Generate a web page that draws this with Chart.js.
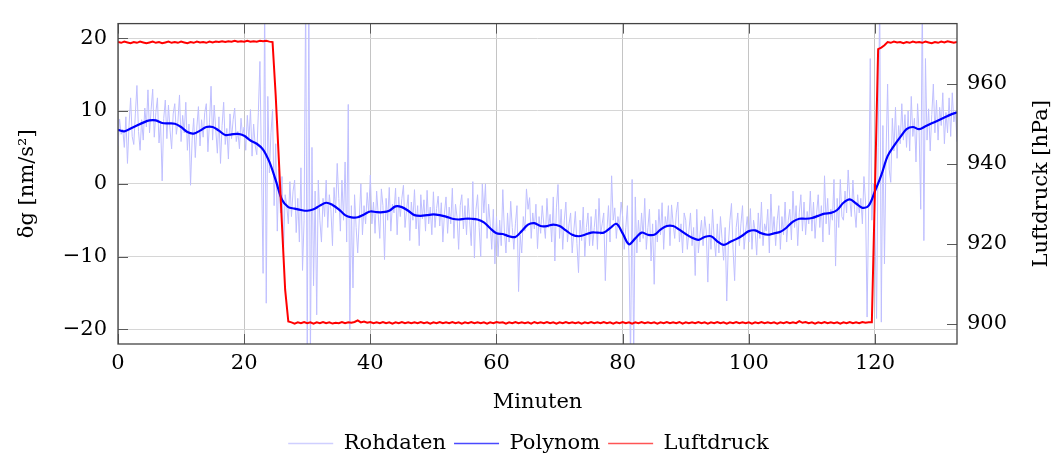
<!DOCTYPE html>
<html><head><meta charset="utf-8">
<script src="https://cdn.jsdelivr.net/npm/chart.js@4.4.1/dist/chart.umd.min.js"></script>
<style>html,body{margin:0;padding:0;background:#fff;}</style>
</head><body>
<canvas id="c" width="1057" height="459"></canvas>
<script>
const xTicks = [0, 20, 40, 60, 80, 100, 120];
const leftTicks = [-20, -10, 0, 10, 20];
const rightTicks = [900, 920, 940, 960];
const seriesNames = ['Rohdaten', 'Polynom', 'Luftdruck'];
const xTitle = 'Minuten';
const leftTitle = 'δg [nm/s²]';
const rightTitle = 'Luftdruck [hPa]';

// Rohdaten: sampled every 0.25 min, from 0 to 133
const rohStep = 0.25;
const rohdaten = [
 5.2, 8.9, 6.8, 7.5, 5.0, 9.2, 2.8, 8.0, 11.8, 6.5, 5.4, 9.6, 13.5, 7.2, 4.6, 8.8, 6.0, 10.4, 7.8, 12.9,
 7.0, 10.2, 13.0, 6.4, 9.8, 11.8, 5.6, 8.4, 0.4, 9.0, 11.5, 6.2, 10.8, 7.4, 4.8, 9.6, 11.0, 6.8, 8.6, 12.2,
 5.8, 9.4, 7.0, 11.2, 4.6, 8.2, -0.2, 6.0, 9.0, 3.6, 7.8, 10.6, 5.2, 8.8, 6.4, 9.8, 11.0, 4.4, 8.4, 13.4,
 6.0, 10.8, 7.4, 4.2, 9.2, 2.8, 8.0, 11.2, 5.4, 7.6, 3.4, 9.6, 6.2, 8.8, 10.4, 5.8, 7.2, 4.8, 9.0, 6.6,
 7.8, 4.6, 9.4, 6.0, 10.2, 3.8, 8.2, 5.2, 4.0, 9.8, 16.8, 2.0, -12.3, 26.0, -16.4, 12.0, 1.5, 7.0, 10.2, -3.0,
 5.5, -6.5, 2.0, -4.0, 1.0, -9.0, -1.5, -3.0, -5.5, 0.3, -4.5, -1.0, 0.5, -6.7, -2.0, -8.0, 2.2, -11.9, -5.0, 26.0,
 -24.0, 26.0, -24.0, 5.0, -14.0, -1.0, -18.0, 0.5, -5.0, -8.0, -2.0, -4.5, 0.5, -6.0, -1.5, -3.5, -8.5, -0.5, -4.0, 2.8,
 -2.0, -6.5, 0.5, -5.0, 3.0, -8.0, 10.9, -20.0, -3.0, -14.3, -1.5, -6.0, -9.5, -4.8, 0.0, -7.0, -3.0, -5.5, -1.2, -4.0,
 1.2, -5.5, -2.5, -6.8, -1.0, -4.2, -7.5, -0.7, -3.0, -10.4, -2.0, -5.0, -0.5, -6.5, -2.8, -4.0, -0.6, -7.0, -1.8, -4.5,
 -2.0, -0.2, -6.0, -3.5, -1.5, -7.8, -2.5, -5.0, -0.8, -6.2, -3.0, -8.5, -1.5, -4.8, -2.2, -6.5, -0.9, -5.5, -3.2, -7.0,
 -1.1, -6.0, -3.4, -1.7, -5.8, -2.6, -8.0, -4.0, -1.8, -6.8, -3.2, -5.5, -0.6, -7.5, -2.8, -4.6, -9.0, -3.0, -1.5, -6.2,
 -3.0, -7.0, -2.0, -5.2, -8.5, 0.3, -10.2, -3.5, -1.5, -6.0, -10.0, 0.0, -4.0, 0.0, -7.5, -2.8, -5.5, -9.0, -3.5, -11.0,
 -4.5, -10.0, -5.0, -8.5, -0.8, -6.5, -9.5, -4.0, -8.0, -2.4, -6.0, -9.0, -5.5, -3.0, -14.8, -7.0, -9.5, -4.5, -6.5, -0.7,
 -3.5, -1.9, -7.5, -4.0, -6.2, -2.8, -8.9, -4.5, -6.8, -3.0, -5.5, -7.5, -2.0, -6.0, -4.2, -8.0, -1.8, -10.6, -3.2, -0.1,
 -7.5, -3.5, -9.0, -5.0, -2.5, -8.0, -5.5, -4.0, -9.5, -6.5, -3.8, -8.2, -12.2, -5.0, -7.8, -3.2, -10.0, -6.0, -4.0, -8.5,
 -4.5, -8.5, -6.0, -3.5, -9.0, -2.0, -7.0, -5.5, -4.0, -13.3, -6.5, -3.0, -8.0, 1.1, -5.0, -3.3, -7.5, -4.5, -6.0, -2.5,
 -4.5, -9.0, -6.0, -3.0, -10.0, -24.0, 0.6, -24.0, -1.8, -9.5, -5.0, -8.0, -4.0, -7.5, -2.0, -9.0, -6.0, -3.5, -10.6, -5.5,
 -13.8, -5.0, -8.0, -3.5, -7.0, -2.6, -9.0, -4.5, -6.0, -3.0, -8.5, -2.9, -5.5, -7.5, -4.0, -2.5, -8.0, -5.5, -9.5, -4.0,
 -5.0, -9.0, -6.5, -4.0, -8.5, -6.0, -12.6, -3.5, -9.5, -7.0, -5.0, -8.5, -4.5, -6.5, -13.5, -5.5, -9.0, -3.5, -7.5, -10.0,
 -5.5, -9.5, -4.5, -7.5, -10.5, -6.0, -16.1, -8.5, -5.0, -2.7, -9.0, -13.3, -6.0, -4.0, -8.5, -5.5, -3.0, -9.0, -6.5, -4.5,
 -8.0, -3.4, -9.0, -5.0, -6.5, -9.8, -4.0, -7.5, -2.5, -8.5, -5.5, -6.5, -3.5, -9.5, -1.4, -7.0, -4.5, -8.5, -5.0, -3.0,
 -9.0, -4.5, -7.0, -2.5, -8.0, -5.0, -3.5, -7.7, -1.0, -6.0, -3.0, -8.5, -4.0, -1.5, -6.5, -2.5, -7.0, -3.8, -5.5, -1.0,
 -6.5, -2.5, -7.5, -4.0, -1.5, -6.0, -3.0, -8.0, 1.1, -5.5, -2.0, -7.0, -3.5, -5.0, 0.6, -11.3, -2.0, -6.0, 0.6, -4.5,
 -5.0, -1.0, -4.0, 1.9, -2.0, -4.5, 0.5, -3.5, -6.0, -1.5, -4.0, -2.0, -5.5, 1.0, -2.5, -18.3, -3.0, 17.2, -5.0, 0.0,
 -6.0, -18.5, 5.0, 26.0, -19.0, 8.0, -11.0, 4.0, 13.7, 2.0, 0.2, 9.0, 4.5, 10.5, 3.5, 8.0, 5.5, 11.0, 6.0, 9.5,
 5.0, 10.0, 4.5, 12.0, 6.5, 9.0, 3.0, 11.0, 7.0, -3.5, 26.0, -7.8, 17.2, 6.0, 10.3, 4.5, 9.5, 13.7, 7.0, 11.5,
 6.0, 10.5, 8.0, 12.5, 5.5, 9.8, 7.0, 11.8, 6.5, 12.5, 8.5, 10.0, 5.8
];

// Polynom: every 1 min, from 0 to 133
const polyStep = 1;
const polynom = [
 7.4, 7.2, 7.6, 8.0, 8.4, 8.7, 8.7, 8.35, 8.3, 8.25,
 7.8, 7.1, 6.9, 7.3, 7.8, 7.8, 7.3, 6.7, 6.8, 6.85,
 6.6, 5.95, 5.5, 4.7, 3.0, 0.5, -2.2, -3.2, -3.4, -3.6,
 -3.7, -3.5, -3.0, -2.6, -2.9, -3.5, -4.3, -4.6, -4.6, -4.2,
 -3.8, -3.9, -3.9, -3.7, -3.1, -3.2, -3.7, -4.3, -4.4, -4.3,
 -4.2, -4.3, -4.5, -4.8, -4.9, -4.8, -4.8, -4.9, -5.3, -6.1,
 -6.8, -6.9, -7.2, -7.3, -6.5, -5.6, -5.4, -5.8, -5.8, -5.6,
 -5.8, -6.4, -7.0, -7.2, -7.0, -6.7, -6.7, -6.7, -6.1, -5.5,
 -6.8, -8.3, -7.5, -6.7, -7.0, -7.0, -6.3, -5.8, -5.8, -6.3,
 -6.9, -7.4, -7.7, -7.3, -7.2, -7.9, -8.4, -8.0, -7.6, -7.1,
 -6.5, -6.4, -6.8, -7.0, -6.8, -6.6, -6.0, -5.2, -4.8, -4.8,
 -4.7, -4.4, -4.1, -4.0, -3.6, -2.6, -2.15, -2.7, -3.3, -3.0,
 -1.0, 1.2, 3.8, 5.2, 6.4, 7.5, 7.8, 7.5, 7.9, 8.3,
 8.7, 9.1, 9.5, 9.8
];

// Luftdruck: every 0.5 min, from 0 to 133
const luftStep = 0.5;
const luftdruck = [
 970.4, 970.2, 970.5, 970.3, 970.1, 970.4, 970.2, 970.5, 970.3, 970.1,
 970.3, 970.5, 970.2, 970.4, 970.1, 970.3, 970.5, 970.2, 970.4, 970.2,
 970.5, 970.3, 970.1, 970.4, 970.2, 970.5, 970.3, 970.4, 970.2, 970.5,
 970.3, 970.5, 970.4, 970.6, 970.4, 970.6, 970.5, 970.7, 970.5, 970.6,
 970.5, 970.7, 970.5, 970.6, 970.5, 970.7, 970.6, 970.7, 970.5, 970.4,
 957.0, 941.0, 924.5, 908.5, 900.6,
 900.4, 900.1, 900.4, 900.2, 900.5, 900.2, 900.4, 900.1, 900.4, 900.2, 900.5, 900.2, 900.4, 900.1, 900.3, 900.2, 900.5, 900.2, 900.4, 900.3,
 900.5, 900.9, 900.4, 900.6, 900.3, 900.5, 900.2, 900.4, 900.2, 900.5, 900.2, 900.4, 900.1, 900.4, 900.2, 900.5, 900.2, 900.4, 900.2, 900.4,
 900.2, 900.5, 900.2, 900.4, 900.1, 900.4, 900.2, 900.5, 900.2, 900.4, 900.2, 900.5, 900.2, 900.4, 900.1, 900.4, 900.2, 900.5, 900.2, 900.4,
 900.2, 900.4, 900.1, 900.4, 900.2, 900.5, 900.3, 900.4, 900.1, 900.4, 900.2, 900.5, 900.2, 900.4, 900.2, 900.4, 900.1, 900.5, 900.2, 900.4,
 900.2, 900.5, 900.2, 900.4, 900.1, 900.4, 900.2, 900.5, 900.2, 900.4, 900.2, 900.4, 900.1, 900.4, 900.2, 900.5, 900.2, 900.4, 900.2, 900.5,
 900.2, 900.4, 900.1, 900.4, 900.2, 900.5, 900.2, 900.4, 900.1, 900.4, 900.2, 900.5, 900.2, 900.4, 900.2, 900.4, 900.1, 900.4, 900.2, 900.5,
 900.2, 900.4, 900.2, 900.5, 900.1, 900.4, 900.2, 900.4, 900.2, 900.5, 900.2, 900.4, 900.1, 900.4, 900.2, 900.5, 900.2, 900.4, 900.1, 900.4,
 900.2, 900.5, 900.2, 900.4, 900.2, 900.4, 900.1, 900.4, 900.2, 900.5, 900.2, 900.4, 900.2, 900.4, 900.1, 900.4, 900.2, 900.5, 900.2, 900.4,
 900.2, 900.7, 900.3, 900.5, 900.2, 900.4, 900.1, 900.4, 900.2, 900.5, 900.2, 900.4, 900.2, 900.4, 900.1, 900.4, 900.2, 900.5, 900.2, 900.4,
 900.2, 900.5, 900.3, 900.4, 900.4,
 934.0, 968.6, 969.0, 969.6, 970.4,
 970.2, 970.5, 970.3, 970.4, 970.1, 970.4, 970.2, 970.5, 970.3, 970.4, 970.2,
 970.5, 970.3, 970.1, 970.4, 970.2, 970.5, 970.3, 970.6, 970.4, 970.2, 970.4
];

const seriesColors = ['#bfbfff', '#0000ff', '#ff0000'];
const legendColors = ['#cfcfff', '#4a4aff', '#ff5555'];
const FONT = '"DejaVu Serif", "Liberation Serif", serif';

const toPoints = (vals, step) => vals.map((v, i) => ({x: i * step, y: v}));
const fmt = v => (v < 0 ? '\u2212' + Math.abs(v) : String(v));

const framePlugin = {
  id: 'frame',
  afterDraw(chart) {
    const {ctx, chartArea: a, scales} = chart;
    ctx.save();
    const line = (x1, y1, x2, y2) => { ctx.beginPath(); ctx.moveTo(x1, y1); ctx.lineTo(x2, y2); ctx.stroke(); };
    ctx.strokeStyle = '#5a5a5a';
    ctx.lineWidth = 1;
    xTicks.forEach(v => {
      const px = Math.round(scales.x.getPixelForValue(v)) + 0.5;
      line(px, a.bottom, px, a.bottom - 10);
      line(px, a.top, px, a.top + 10);
    });
    leftTicks.forEach(v => {
      const py = Math.round(scales.y.getPixelForValue(v)) + 0.5;
      line(a.left, py, a.left + 10, py);
    });
    rightTicks.forEach(v => {
      const py = Math.round(scales.y2.getPixelForValue(v)) + 0.5;
      line(a.right, py, a.right - 10, py);
    });
    ctx.strokeStyle = '#444';
    ctx.lineWidth = 1.3;
    ctx.strokeRect(a.left, a.top, a.right - a.left, a.bottom - a.top);
    ctx.translate(1042, (a.top + a.bottom) / 2);
    ctx.rotate(-Math.PI / 2);
    ctx.font = '21px ' + FONT;
    ctx.fillStyle = '#000';
    ctx.textAlign = 'center';
    ctx.textBaseline = 'middle';
    ctx.fillText(rightTitle, 0, 0);
    ctx.restore();
  }
};

Chart.defaults.color = '#000';
Chart.defaults.font.family = FONT;
Chart.defaults.font.size = 21;

new Chart(document.getElementById('c'), {
  type: 'line',
  data: {
    datasets: [
      { label: seriesNames[0], data: toPoints(rohdaten, rohStep), borderColor: seriesColors[0], borderWidth: 1,
        pointRadius: 0, tension: 0, yAxisID: 'y', order: 3 },
      { label: seriesNames[1], data: toPoints(polynom, polyStep), borderColor: seriesColors[1], borderWidth: 2.2,
        pointRadius: 0, tension: 0.35, yAxisID: 'y', order: 2 },
      { label: seriesNames[2], data: toPoints(luftdruck, luftStep), borderColor: seriesColors[2], borderWidth: 2,
        pointRadius: 0, tension: 0, yAxisID: 'y2', order: 1 }
    ]
  },
  options: {
    responsive: false,
    animation: false,
    devicePixelRatio: 1,
    layout: { padding: { top: 8, bottom: -5, left: 0, right: 0 } },
    plugins: {
      tooltip: { enabled: false },
      legend: {
        position: 'bottom',
        labels: {
          usePointStyle: true,
          pointStyle: 'line',
          pointStyleWidth: 45,
          padding: 8,
          font: { size: 21, family: FONT },
          generateLabels: chart => chart.data.datasets.map((ds, i) => ({
            text: ds.label, strokeStyle: legendColors[i], fillStyle: legendColors[i],
            lineWidth: 1.3, pointStyle: 'line', hidden: false, datasetIndex: i, fontColor: '#000'
          }))
        }
      }
    },
    scales: {
      x: {
        type: 'linear', min: 0, max: 133,
        afterBuildTicks: s => { s.ticks = xTicks.map(v => ({value: v})); },
        afterFit: s => { s.height = 81; },
        grid: { color: '#c4c4c4', lineWidth: 1, drawTicks: false },
        border: { display: false },
        ticks: { padding: 7, maxRotation: 0, autoSkip: false, callback: v => fmt(v), font: { size: 21 } },
        title: { display: true, text: xTitle, font: { size: 21 }, padding: { top: 0, bottom: 10 } }
      },
      y: {
        position: 'left', min: -22, max: 22,
        afterBuildTicks: s => { s.ticks = leftTicks.map(v => ({value: v})); },
        afterFit: s => { s.width = 118; },
        grid: { color: '#d6d6d6', lineWidth: 1, drawTicks: false },
        border: { display: false },
        ticks: { padding: 11, callback: v => fmt(v), font: { size: 21 } },
        title: { display: true, text: leftTitle, font: { size: 21 }, padding: { top: 15, bottom: 0 } }
      },
      y2: {
        position: 'right', min: 895, max: 975,
        afterBuildTicks: s => { s.ticks = rightTicks.map(v => ({value: v})); },
        afterFit: s => { s.width = 100; },
        grid: { drawOnChartArea: false, drawTicks: false },
        border: { display: false },
        ticks: { padding: 10, callback: v => fmt(v), font: { size: 21 } },
        title: { display: false, text: rightTitle }
      }
    }
  },
  plugins: [framePlugin]
});
</script>
</body></html>
